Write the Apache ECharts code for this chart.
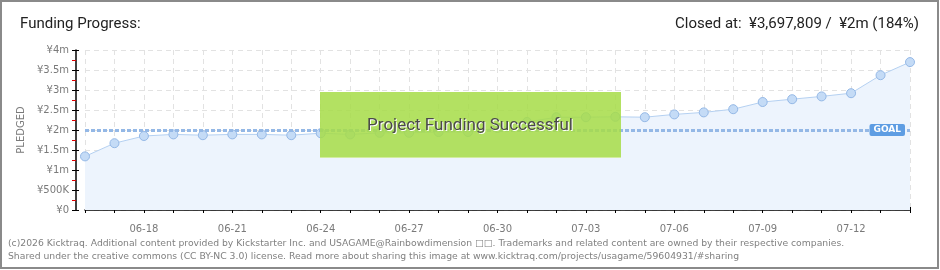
<!DOCTYPE html>
<html><head><meta charset="utf-8">
<script src="https://cdn.jsdelivr.net/npm/echarts@6/dist/echarts.min.js"></script>
<style>html,body{margin:0;padding:0;background:#fff}#c{width:940px;height:270px}</style>
</head><body><div id="c"></div>
<script>
const categories = ['06-16','06-17','06-18','06-19','06-20','06-21','06-22','06-23','06-24','06-25','06-26','06-27','06-28','06-29','06-30','07-01','07-02','07-03','07-04','07-05','07-06','07-07','07-08','07-09','07-10','07-11','07-12','07-13','07-14'];
const pledged = [1340000,1670000,1850000,1890000,1870000,1890000,1890000,1870000,1920000,1890000,1930000,1930000,1950000,1950000,2050000,2200000,2320000,2320000,2330000,2320000,2390000,2440000,2520000,2700000,2770000,2840000,2920000,3370000,3697809];
const goal = 2000000;
const yTickLabels = ['¥0','¥500K','¥1m','¥1.5m','¥2m','¥2.5m','¥3m','¥3.5m','¥4m'];
const titleText = 'Funding Progress:';
const closedText = 'Closed at:  ¥3,697,809 /  ¥2m (184%)';
const footer1 = '(c)2026 Kicktraq. Additional content provided by Kickstarter Inc. and USAGAME@Rainbowdimension \u25A1\u25A1. Trademarks and related content are owned by their respective companies.';
const footer2 = 'Shared under the creative commons (CC BY-NC 3.0) license. Read more about sharing this image at www.kicktraq.com/projects/usagame/59604931/#sharing';
const bannerText = 'Project Funding Successful';

const chart = echarts.init(document.getElementById('c'), null, {renderer:'canvas'});
const axFont = {fontFamily:'DejaVu Sans', fontSize:10, color:'#7a7a7a'};
const yCommon = {type:'value', min:0, max:4000000, interval:500000};
const xCommon = {type:'category', data:categories, boundaryGap:false};
chart.setOption({
  animation:false,
  grid:{left:85, right:30, top:50, bottom:60},
  xAxis:[
    Object.assign({}, xCommon, {
      position:'bottom', offset:10,
      axisLine:{lineStyle:{color:'#000', width:1.5}},
      axisTick:{show:true, length:3, interval:0, lineStyle:{color:'#000'}},
      axisLabel:Object.assign({interval:(i)=> (i-2)%3===0, margin:4}, axFont),
      splitLine:{show:true, interval:0, lineStyle:{color:'#e2e2e2', type:[5,4]}}
    }),
    Object.assign({}, xCommon, {
      position:'bottom', offset:10,
      axisLine:{show:false},
      axisTick:{show:true, inside:true, length:3, interval:0, lineStyle:{color:'#000'}},
      axisLabel:{show:false}, splitLine:{show:false}
    })
  ],
  yAxis:[
    Object.assign({}, yCommon, {
      position:'left', offset:9,
      name:'PLEDGED', nameLocation:'middle', nameGap:46, nameRotate:90,
      nameTextStyle:{fontFamily:'DejaVu Sans', fontSize:10, color:'#7a7a7a'},
      axisLine:{show:true, lineStyle:{color:'#000', width:1.5}},
      axisTick:{show:true, length:4, lineStyle:{color:'#000'}},
      minorTick:{show:true, splitNumber:2, length:4, lineStyle:{color:'#e00000'}},
      axisLabel:Object.assign({margin:7, formatter:(v)=>yTickLabels[Math.round(v/500000)]}, axFont),
      splitLine:{show:true, lineStyle:{color:'#e2e2e2', type:[5,4]}}
    }),
    Object.assign({}, yCommon, {
      position:'left', offset:9,
      axisLine:{show:false},
      axisTick:{show:true, inside:true, length:3, lineStyle:{color:'#000'}},
      axisLabel:{show:false}, splitLine:{show:false}
    })
  ],
  series:[{
    type:'line', data:pledged, xAxisIndex:0, yAxisIndex:0,
    symbol:'circle', symbolSize:9,
    lineStyle:{color:'#b4d0f1', width:1},
    itemStyle:{color:'#c4dbf6', borderColor:'#94b8e6', borderWidth:1},
    areaStyle:{color:'#edf4fd', opacity:1},
    z:3,
    markLine:{
      silent:true, symbol:'none',
      lineStyle:{color:'#94b8e6', type:[4,2], width:3},
      label:{show:true, position:'insideEnd', distance:5, formatter:'GOAL',
        backgroundColor:'#5e9de3', color:'#fff', fontFamily:'DejaVu Sans', fontSize:9, fontWeight:'bold',
        padding:[2,4,1,4], borderRadius:2},
      data:[{yAxis:goal}]
    }
  }],
  graphic:[
    {type:'rect', shape:{x:1, y:1, width:937, height:267}, style:{fill:null, stroke:'#8a8a8a', lineWidth:2}, z:100},
    {type:'text', left:20, top:17, style:{text:titleText, font:'15px Roboto', fill:'#222'}},
    {type:'text', right:21, top:17, style:{text:closedText, font:'15px Roboto', fill:'#222'}},
    {type:'text', left:8, top:237, style:{text:footer1 + '\n' + footer2, font:'9.25px "DejaVu Sans"', fill:'#808080', lineHeight:13}},
    {type:'rect', z:50, shape:{x:320, y:92, width:301, height:66}, style:{fill:'rgba(166,220,72,0.86)'}},
    {type:'rect', z:51, shape:{x:320, y:157, width:301, height:1}, style:{fill:'#d2ec9f'}},
    {type:'text', z:52, x:471, y:127, style:{text:bannerText, font:'17px Roboto', fill:'#fff', align:'center', verticalAlign:'middle'}},
    {type:'text', z:53, x:470, y:126, style:{text:bannerText, font:'17px Roboto', fill:'#4a4a4a', align:'center', verticalAlign:'middle'}}
  ]
});
</script></body></html>
